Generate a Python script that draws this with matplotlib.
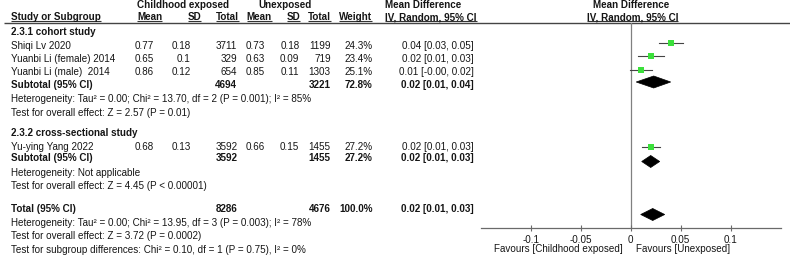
import matplotlib
matplotlib.use("Agg")
import matplotlib.pyplot as plt
from matplotlib.patches import Polygon

plt.rcParams['font.family'] = ['Liberation Sans', 'DejaVu Sans']

# ---------------- data ----------------
studies = ["Shiqi Lv 2020", "Yuanbi Li (female) 2014", "Yuanbi Li (male)  2014", "Yu-ying Yang 2022"]
exp_mean = ["0.77", "0.65", "0.86", "0.68"]
exp_sd = ["0.18", "0.1", "0.12", "0.13"]
exp_n = [3711, 329, 654, 3592]
unexp_mean = ["0.73", "0.63", "0.85", "0.66"]
unexp_sd = ["0.18", "0.09", "0.11", "0.15"]
unexp_n = [1199, 719, 1303, 1455]
weights = [24.3, 23.4, 25.1, 27.2]
md = [0.040, 0.020, 0.010, 0.020]
md_lo = [0.028, 0.0075, -0.001, 0.011]
md_hi = [0.052, 0.033, 0.021, 0.029]
md_labels = ["0.04 [0.03, 0.05]", "0.02 [0.01, 0.03]", "0.01 [-0.00, 0.02]", "0.02 [0.01, 0.03]"]

groups = ["2.3.1 cohort study", "2.3.2 cross-sectional study"]
sub_exp_n = [4694, 3592]
sub_unexp_n = [3221, 1455]
sub_weight = [72.8, 27.2]
sub_md = [0.023, 0.020]
sub_lo = [0.0055, 0.011]
sub_hi = [0.040, 0.029]
sub_labels = ["0.02 [0.01, 0.04]", "0.02 [0.01, 0.03]"]
sub_het = ["Heterogeneity: Tau\u00b2 = 0.00; Chi\u00b2 = 13.70, df = 2 (P = 0.001); I\u00b2 = 85%",
           "Heterogeneity: Not applicable"]
sub_test = ["Test for overall effect: Z = 2.57 (P = 0.01)",
            "Test for overall effect: Z = 4.45 (P < 0.00001)"]

tot_exp_n = 8286
tot_unexp_n = 4676
tot_weight = 100.0
tot_md = 0.022
tot_lo = 0.010
tot_hi = 0.034
tot_label = "0.02 [0.01, 0.03]"
tot_lines = ["Heterogeneity: Tau\u00b2 = 0.00; Chi\u00b2 = 13.95, df = 3 (P = 0.003); I\u00b2 = 78%",
             "Test for overall effect: Z = 3.72 (P = 0.0002)",
             "Test for subgroup differences: Chi\u00b2 = 0.10, df = 1 (P = 0.75), I\u00b2 = 0%"]

xticks = [-0.1, -0.05, 0, 0.05, 0.1]
xtick_labels = ["-0.1", "-0.05", "0", "0.05", "0.1"]
fav_left = "Favours [Childhood exposed]"
fav_right = "Favours [Unexposed]"

# ---------------- layout ----------------
W, H = 790, 262
FS = 7.1
TC = "#151515"
GREEN = "#3be03b"

fig = plt.figure(figsize=(W / 100, H / 100), dpi=100)
tab = fig.add_axes([0, 0, 1, 1])
tab.set_xlim(0, W)
tab.set_ylim(H, 0)
tab.axis("off")

AX_L, AX_R, AX_TOP, AX_BOT = 480.7, 780.7, 23.0, 227.7
fp = fig.add_axes([AX_L / W, (H - AX_BOT) / H, (AX_R - AX_L) / W, (AX_BOT - AX_TOP) / H])
fp.set_xlim(-0.15, 0.15)
fp.set_ylim(AX_BOT, AX_TOP)
fp.patch.set_alpha(0)
for s in ["top", "right", "left"]:
    fp.spines[s].set_visible(False)
fp.spines["bottom"].set_color("#6a6a6a")
fp.spines["bottom"].set_linewidth(0.9)
fp.set_yticks([])
fp.set_xticks(xticks)
fp.set_xticklabels(xtick_labels)
fp.tick_params(axis="x", direction="inout", length=5, width=0.8, color="#6a6a6a",
               labelsize=FS, pad=2.5, labelcolor=TC)
fp.axvline(0, color="#808080", lw=0.9, zorder=1)

# column x positions (pixel space)
X_STUDY = 11
X_EM, X_ESD, X_EN = 154, 190.7, 237.3
X_UM, X_USD, X_UN = 264.5, 299.3, 330.7
X_W, X_MD = 372.7, 473.7


def t(x, y, s, ha="left", bold=False):
    return tab.text(x, y, s, ha=ha, va="center", fontsize=FS, color=TC,
                    fontweight="bold" if bold else "normal")

# headers
Y_H1, Y_H2 = 5.5, 17.5
t(136.7, Y_H1, "Childhood exposed", bold=True)
t(258, Y_H1, "Unexposed", bold=True)
t(385, Y_H1, "Mean Difference", bold=True)
t(630.7, Y_H1, "Mean Difference", ha="center", bold=True)
h2 = [t(X_STUDY, Y_H2, "Study or Subgroup", bold=True),
      t(137, Y_H2, "Mean", bold=True),
      t(187.7, Y_H2, "SD", bold=True),
      t(216, Y_H2, "Total", bold=True),
      t(246.7, Y_H2, "Mean", bold=True),
      t(286.7, Y_H2, "SD", bold=True),
      t(308.3, Y_H2, "Total", bold=True),
      t(339.3, Y_H2, "Weight", bold=True),
      t(385, Y_H2, "IV, Random, 95% CI", bold=True),
      t(632.7, Y_H2, "IV, Random, 95% CI", ha="center", bold=True)]
tab.plot([4, W], [23, 23], color="#444444", lw=1.0, solid_capstyle="butt")

# row positions
study_rows = [[46, 59, 72], [146.5]]
marker_dy = [-2.5, -2.5, -2.0, 0.5]
title_rows = [32, 133.5]
sub_rows = [84.5, 158]
het_rows = [99, 172.5]
test_rows = [112.5, 186]
diamond_y = [82, 161.5]

idx = 0
for g in range(2):
    t(X_STUDY, title_rows[g], groups[g], bold=True)
    for y in study_rows[g]:
        t(X_STUDY, y, studies[idx])
        t(X_EM, y, exp_mean[idx], ha="right")
        t(X_ESD, y, exp_sd[idx], ha="right")
        t(X_EN, y, str(exp_n[idx]), ha="right")
        t(X_UM, y, unexp_mean[idx], ha="right")
        t(X_USD, y, unexp_sd[idx], ha="right")
        t(X_UN, y, str(unexp_n[idx]), ha="right")
        t(X_W, y, f"{weights[idx]:.1f}%", ha="right")
        t(X_MD, y, md_labels[idx], ha="right")
        my = y + marker_dy[idx]
        fp.plot([md_lo[idx], md_hi[idx]], [my, my], color="#444444", lw=0.8, zorder=2)
        fp.plot([md[idx]], [my], marker="s", linestyle="none", color=GREEN,
                markersize=4.3 * (weights[idx] / 25) ** 0.5, markeredgewidth=0, zorder=3)
        idx += 1
    y = sub_rows[g]
    t(X_STUDY, y, "Subtotal (95% CI)", bold=True)
    t(X_EN, y, str(sub_exp_n[g]), ha="right", bold=True)
    t(X_UN, y, str(sub_unexp_n[g]), ha="right", bold=True)
    t(X_W, y, f"{sub_weight[g]:.1f}%", ha="right", bold=True)
    t(X_MD, y, sub_labels[g], ha="right", bold=True)
    t(X_STUDY, het_rows[g], sub_het[g])
    t(X_STUDY, test_rows[g], sub_test[g])
    dy = diamond_y[g]
    fp.add_patch(Polygon([[sub_lo[g], dy], [sub_md[g], dy - 6], [sub_hi[g], dy], [sub_md[g], dy + 6]],
                         closed=True, facecolor="black", edgecolor="black", lw=0.5, zorder=3))

Y_TOT = 209.5
t(X_STUDY, Y_TOT, "Total (95% CI)", bold=True)
t(X_EN, Y_TOT, str(tot_exp_n), ha="right", bold=True)
t(X_UN, Y_TOT, str(tot_unexp_n), ha="right", bold=True)
t(X_W, Y_TOT, f"{tot_weight:.1f}%", ha="right", bold=True)
t(X_MD, Y_TOT, tot_label, ha="right", bold=True)
for y, s in zip([222.5, 236, 250], tot_lines):
    t(X_STUDY, y, s)
ty = 214.5
fp.add_patch(Polygon([[tot_lo, ty], [tot_md, ty - 6], [tot_hi, ty], [tot_md, ty + 6]],
                     closed=True, facecolor="black", edgecolor="black", lw=0.5, zorder=3))

# favours labels
t(622.7, 249.3, fav_left, ha="right")
t(635.7, 249.3, fav_right, ha="left")

# underline header texts
fig.canvas.draw()
r = fig.canvas.get_renderer()
inv = tab.transData.inverted()
for txt in h2:
    bb = txt.get_window_extent(r)
    (x0, _), (x1, _) = inv.transform([[bb.x0, bb.y0], [bb.x1, bb.y1]])
    tab.plot([x0, x1], [21.2, 21.2], color="#333333", lw=0.8, solid_capstyle="butt")

fig.savefig("out.png", dpi=100)
